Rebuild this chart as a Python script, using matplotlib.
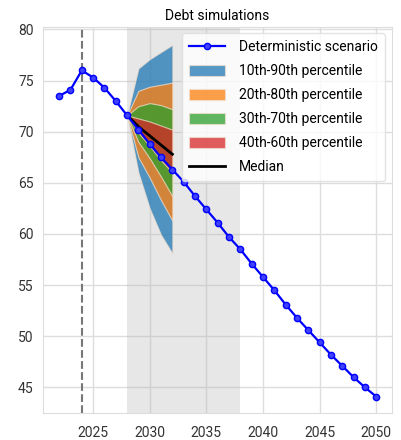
import matplotlib
matplotlib.use("Agg")
import matplotlib.pyplot as plt
import numpy as np

plt.rcParams['font.family'] = ['Roboto', 'DejaVu Sans']

years = list(range(2022, 2051))
deterministic = [73.5, 74.1, 76.0, 75.3, 74.3, 73.0, 71.6, 70.2, 68.8, 67.5,
                 66.3, 65.1, 63.7, 62.4, 61.1, 59.7, 58.5, 57.1, 55.8, 54.5,
                 53.1, 51.8, 50.6, 49.4, 48.2, 47.1, 46.0, 45.0, 44.1]

fan_years = [2028, 2029, 2030, 2031, 2032]
p10 = [71.6, 66.0, 62.5, 59.9, 58.1]
p20 = [71.6, 67.5, 65.5, 63.3, 61.3]
p30 = [71.6, 69.0, 67.4, 65.6, 63.7]
p40 = [71.6, 69.9, 68.6, 67.2, 66.0]
p50 = [71.6, 70.5, 69.6, 68.7, 67.8]
p60 = [71.6, 71.3, 71.0, 70.6, 70.2]
p70 = [71.6, 72.5, 72.8, 72.6, 72.2]
p80 = [71.6, 74.0, 74.4, 74.6, 74.8]
p90 = [71.6, 76.2, 77.1, 77.8, 78.5]

fig = plt.figure(figsize=(4.01, 4.40), dpi=100)
ax = fig.add_axes([0.108, 0.0607, 0.8696, 0.879])

ax.grid(True, color='#dddddd', linewidth=1.0, zorder=0)
ax.set_axisbelow(True)
for s in ax.spines.values():
    s.set_color('#dddddd')
ax.tick_params(length=0, labelsize=10, colors='#333333')
ax.tick_params(axis='x', pad=9)
ax.tick_params(axis='y', pad=7)

ax.axvspan(2028, 2038, color='#b0b0b0', alpha=0.3, lw=0, zorder=1)
ax.axvline(2024, color='#777777', ls='--', lw=1.5, zorder=2)

bands = [(p10, p90, 'tab:blue', '10th-90th percentile'),
         (p20, p80, 'tab:orange', '20th-80th percentile'),
         (p30, p70, 'tab:green', '30th-70th percentile'),
         (p40, p60, 'tab:red', '40th-60th percentile')]

ax.plot(years, deterministic, '-o', color='blue', lw=1.6, ms=4.5,
        mfc=(0.25, 0.25, 1.0), label='Deterministic scenario', zorder=5)
for lo, hi, c, lab in bands:
    ax.fill_between(fan_years, lo, hi, color=c, alpha=0.75, edgecolor='#f0e0d0',
                    lw=0.8, label=lab, zorder=3)
ax.plot(fan_years, p50, color='black', lw=2, label='Median', zorder=4)

ax.set_ylim(42.46, 80.29)
ax.set_title('Debt simulations', fontsize=10, pad=5)
ax.set_xticks([2025, 2030, 2035, 2040, 2045, 2050])
ax.set_yticks([45, 50, 55, 60, 65, 70, 75, 80])
ax.legend(loc='upper right', fontsize=10, framealpha=0.8, edgecolor='#dddddd',
          labelspacing=0.72, handlelength=2.6, handleheight=0.8,
          handletextpad=1.0, borderpad=0.5)

fig.savefig('out.png', dpi=100)
